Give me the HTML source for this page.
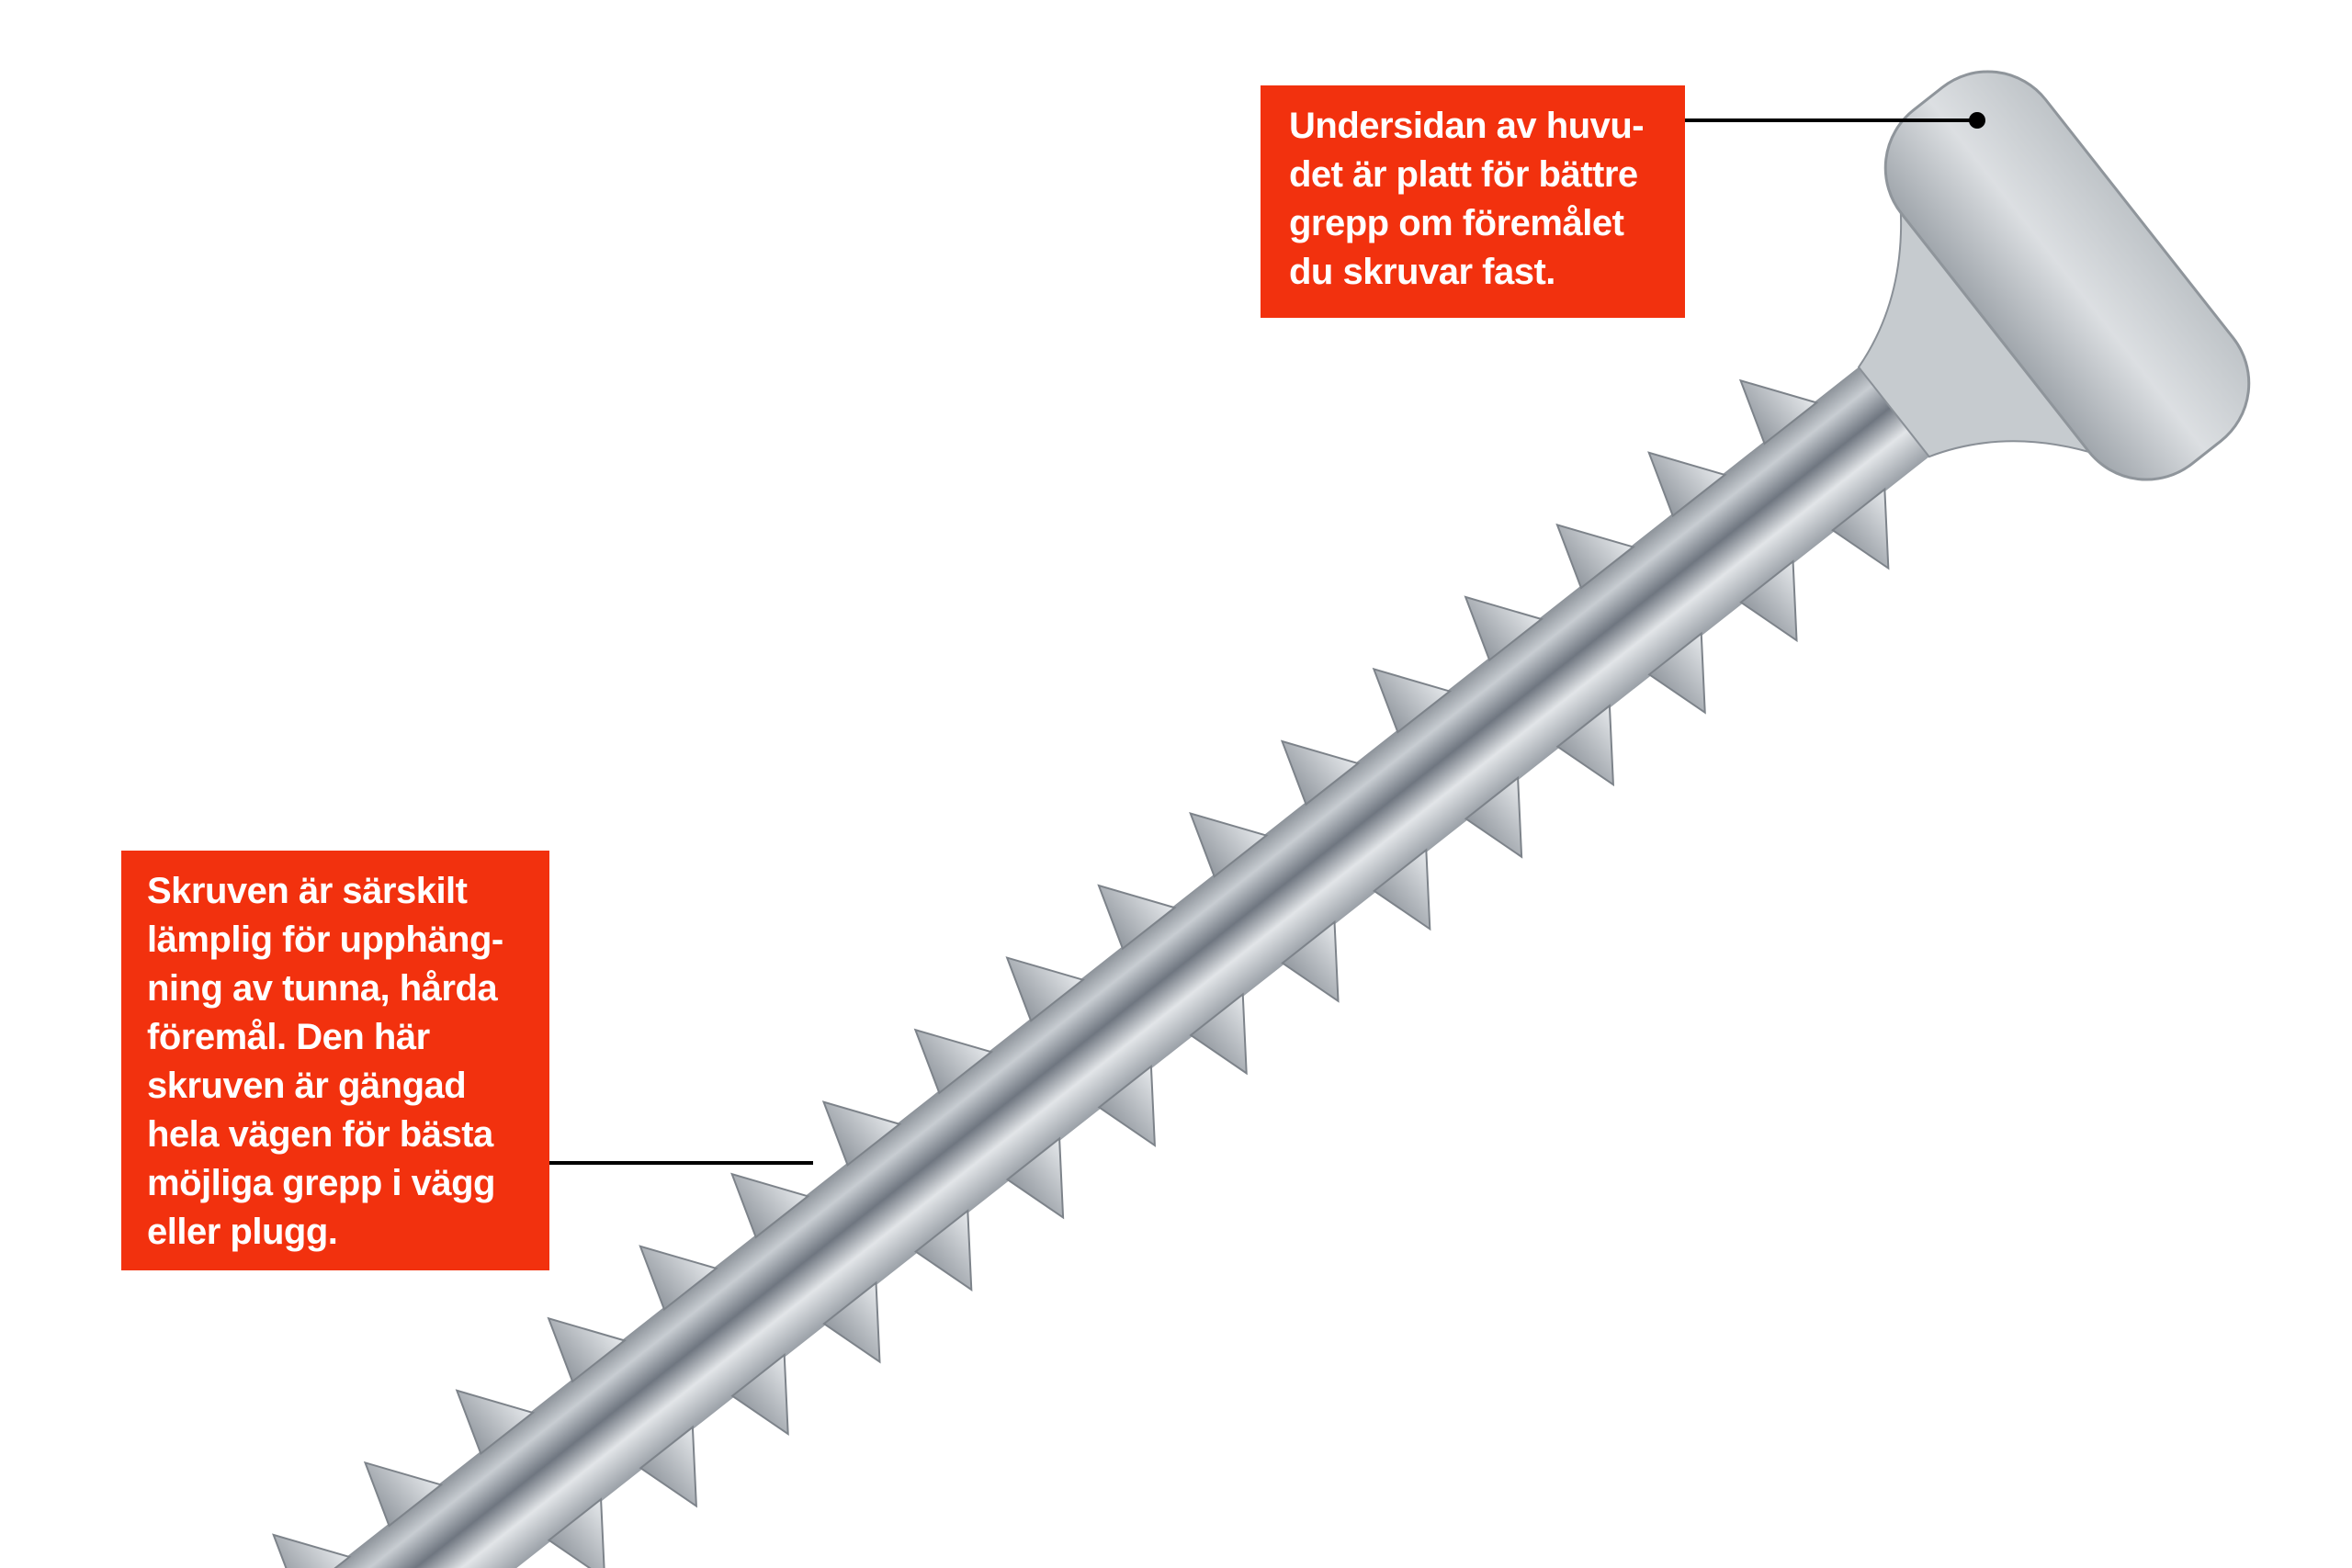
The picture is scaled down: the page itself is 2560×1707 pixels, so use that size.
<!DOCTYPE html>
<html><head><meta charset="utf-8"><style>
html,body{margin:0;padding:0;background:#fff;width:2560px;height:1707px;overflow:hidden;}
body{position:relative;font-family:"Liberation Sans Narrow","Liberation Sans",sans-serif;}
.box{position:absolute;background:#f2310e;color:#fff;font-weight:bold;font-size:40px;line-height:53px;letter-spacing:-0.5px;box-sizing:border-box;white-space:nowrap;}
svg{position:absolute;left:0;top:0;overflow:hidden;display:block;}
</style></head><body>
<svg width="2560" height="1707" viewBox="0 0 2560 1707">
<defs>
<linearGradient id="sh" x1="0" y1="0" x2="0" y2="1">
<stop offset="0" stop-color="#9aa0a7"/><stop offset="0.3" stop-color="#e2e5e8"/><stop offset="0.55" stop-color="#6f7680"/><stop offset="0.8" stop-color="#c8cdd2"/><stop offset="1" stop-color="#8d939a"/></linearGradient>
<linearGradient id="hd" x1="0" y1="0" x2="1" y2="0">
<stop offset="0" stop-color="#bfc4c8"/><stop offset="0.5" stop-color="#dcdfe2"/><stop offset="1" stop-color="#a0a6ac"/></linearGradient>
<linearGradient id="th" x1="0" y1="0" x2="1" y2="0">
<stop offset="0" stop-color="#e6e9ec"/><stop offset="1" stop-color="#9399a0"/></linearGradient>
</defs>
<g transform="translate(2250,300) rotate(141.8)">
<rect x="230" y="-62" width="2400" height="124" fill="url(#sh)"/>
<g fill="url(#th)" stroke="#7d838a" stroke-width="2">
<polygon points="300,-60 350,-130 372,-60"/><polygon points="300,60 350,130 372,60"/>
<polygon points="427,-60 477,-130 499,-60"/><polygon points="427,60 477,130 499,60"/>
<polygon points="554,-60 604,-130 626,-60"/><polygon points="554,60 604,130 626,60"/>
<polygon points="681,-60 731,-130 753,-60"/><polygon points="681,60 731,130 753,60"/>
<polygon points="808,-60 858,-130 880,-60"/><polygon points="808,60 858,130 880,60"/>
<polygon points="935,-60 985,-130 1007,-60"/><polygon points="935,60 985,130 1007,60"/>
<polygon points="1062,-60 1112,-130 1134,-60"/><polygon points="1062,60 1112,130 1134,60"/>
<polygon points="1189,-60 1239,-130 1261,-60"/><polygon points="1189,60 1239,130 1261,60"/>
<polygon points="1316,-60 1366,-130 1388,-60"/><polygon points="1316,60 1366,130 1388,60"/>
<polygon points="1443,-60 1493,-130 1515,-60"/><polygon points="1443,60 1493,130 1515,60"/>
<polygon points="1570,-60 1620,-130 1642,-60"/><polygon points="1570,60 1620,130 1642,60"/>
<polygon points="1697,-60 1747,-130 1769,-60"/><polygon points="1697,60 1747,130 1769,60"/>
<polygon points="1824,-60 1874,-130 1896,-60"/><polygon points="1824,60 1874,130 1896,60"/>
<polygon points="1951,-60 2001,-130 2023,-60"/><polygon points="1951,60 2001,130 2023,60"/>
<polygon points="2078,-60 2128,-130 2150,-60"/><polygon points="2078,60 2128,130 2150,60"/>
<polygon points="2205,-60 2255,-130 2277,-60"/><polygon points="2205,60 2255,130 2277,60"/>
<polygon points="2332,-60 2382,-130 2404,-60"/><polygon points="2332,60 2382,130 2404,60"/>
<polygon points="2459,-60 2509,-130 2531,-60"/><polygon points="2459,60 2509,130 2531,60"/>
</g>
<path d="M90,-180 Q150,-90 240,-62 L240,62 Q150,90 90,180 Z" fill="#c6cbcf" stroke="#8a9097" stroke-width="2"/>
<rect x="-100" y="-245" width="200" height="490" rx="80" fill="url(#hd)" stroke="#8f959b" stroke-width="3"/>
</g>
<line x1="1834" y1="131" x2="2152" y2="131" stroke="#000" stroke-width="4"/>
<circle cx="2152" cy="131" r="9" fill="#000"/>
<line x1="598" y1="1266" x2="885" y2="1266" stroke="#000" stroke-width="4"/>
</svg>
<div class="box" style="left:1372px;top:93px;width:462px;height:253px;padding:18px 0 0 31px;">Undersidan av huvu-<br>det är platt för bättre<br>grepp om föremålet<br>du skruvar fast.</div>
<div class="box" style="left:132px;top:926px;width:466px;height:457px;padding:18px 0 0 28px;">Skruven är särskilt<br>lämplig för upphäng-<br>ning av tunna, hårda<br>föremål. Den här<br>skruven är gängad<br>hela vägen för bästa<br>möjliga grepp i vägg<br>eller plugg.</div>
</body></html>
